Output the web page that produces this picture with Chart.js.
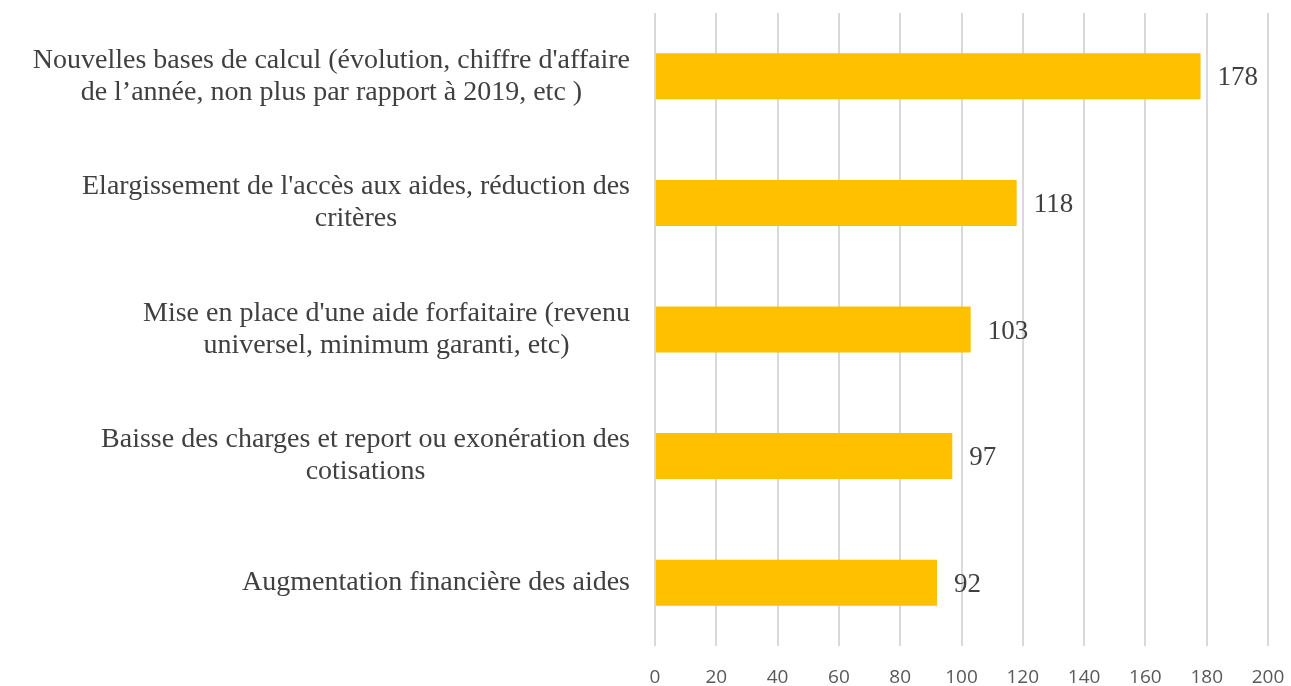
<!DOCTYPE html>
<html lang="fr">
<head>
    <meta charset="UTF-8">
    <title>Propositions</title>
    <script src="https://cdn.jsdelivr.net/npm/chart.js"></script>
    <style>
        html, body { margin: 0; padding: 0; background: #fff; }
        #wrap { width: 1291px; height: 686px; }
    </style>
</head>
<body>
    <div id="wrap"><canvas id="chart"></canvas></div>
    <script>
        // Categories (each entry: lines of the label)
        const categories = [
            ["Nouvelles bases de calcul (évolution, chiffre d'affaire", "de l’année, non plus par rapport à 2019, etc )"],
            ["Elargissement de l'accès aux aides, réduction des", "critères"],
            ["Mise en place d'une aide forfaitaire (revenu", "universel, minimum garanti, etc)"],
            ["Baisse des charges et report ou exonération des", "cotisations"],
            ["Augmentation financière des aides"]
        ];
        const values = [178, 118, 103, 97, 92];
        const xMin = 0;
        const xMax = 200;
        const xStep = 20;

        const serif = '"Liberation Serif", "DejaVu Serif", serif';
        const textColor = '#404040';

        // category labels: block right-aligned, lines centered inside the block
        const categoryLabels = {
            id: 'categoryLabels',
            afterDraw(chart) {
                const ctx = chart.ctx;
                const y = chart.scales.y;
                const right = chart.chartArea.left - 25;
                const lineH = 32;
                ctx.save();
                ctx.font = '28px ' + serif;
                ctx.fillStyle = textColor;
                ctx.textAlign = 'center';
                ctx.textBaseline = 'middle';
                categories.forEach((lines, i) => {
                    const cy = y.getPixelForValue(i);
                    const w = Math.max(...lines.map(l => ctx.measureText(l).width));
                    const cx = right - w / 2;
                    const top = cy - (lines.length - 1) * lineH / 2;
                    lines.forEach((l, j) => ctx.fillText(l, cx, top + j * lineH));
                });
                ctx.restore();
            }
        };

        // value labels at the end of each bar
        const valueLabels = {
            id: 'valueLabels',
            afterDatasetsDraw(chart) {
                const ctx = chart.ctx;
                const meta = chart.getDatasetMeta(0);
                ctx.save();
                ctx.font = '27px ' + serif;
                ctx.fillStyle = textColor;
                ctx.textAlign = 'left';
                ctx.textBaseline = 'middle';
                meta.data.forEach((bar, i) => {
                    ctx.fillText(values[i], bar.x + 17, bar.y + 2);
                });
                ctx.restore();
            }
        };

        new Chart(document.getElementById('chart'), {
            type: 'bar',
            data: {
                labels: categories,
                datasets: [{
                    data: values,
                    backgroundColor: '#FFC000',
                    borderWidth: 0,
                    barPercentage: 0.363,
                    categoryPercentage: 1
                }]
            },
            options: {
                indexAxis: 'y',
                responsive: true,
                maintainAspectRatio: false,
                animation: false,
                layout: { padding: { left: 655, right: 23, top: 13, bottom: 0 } },
                plugins: { legend: { display: false }, tooltip: { enabled: false } },
                scales: {
                    x: {
                        min: xMin,
                        max: xMax,
                        afterFit(scale) {
                            scale.height = 40;
                            scale.paddingRight = 0;
                            scale.paddingLeft = 0;
                        },
                        ticks: {
                            stepSize: xStep,
                            padding: 20,
                            maxRotation: 0,
                            color: '#595959',
                            font: { family: '"Open Sans", sans-serif', size: 19 }
                        },
                        grid: { color: '#d9d9d9', lineWidth: 2, drawTicks: false },
                        border: { display: false }
                    },
                    y: {
                        display: false
                    }
                }
            },
            plugins: [categoryLabels, valueLabels]
        });
    </script>
</body>
</html>
